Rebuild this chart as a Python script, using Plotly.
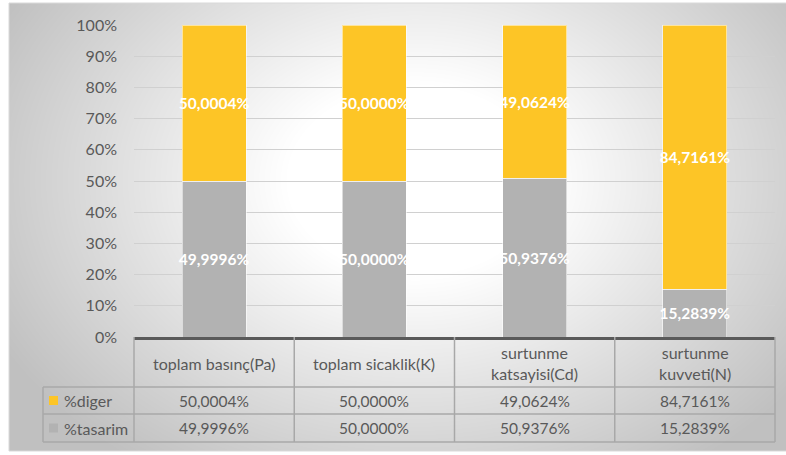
import base64
import struct
import zlib

import numpy as np
import plotly.graph_objects as go

# ---- data ----
categories = ["toplam basınç(Pa)", "toplam sicaklik(K)",
              "surtunme<br>katsayisi(Cd)", "surtunme<br>kuvveti(N)"]
series_names = ["%diger", "%tasarim"]
diger = [50.0004, 50.0000, 49.0624, 84.7161]
tasarim = [49.9996, 50.0000, 50.9376, 15.2839]
y_ticks = [0, 10, 20, 30, 40, 50, 60, 70, 80, 90, 100]
y_tick_labels = [f"{v}%" for v in y_ticks]

# ---- styling ----
W, H = 786, 455
M_L, M_R, M_T, M_B = 134, 11, 25, 118
PLOT_W = W - M_L - M_R
PLOT_H = H - M_T - M_B
YELLOW = "#FDC526"
GREY = "#B2B2B2"
TEXT = "#595959"
TABLE_LINE = "#A8A8A8"
FONT = "Lato, 'Open Sans', sans-serif"


def px_x(px):
    return (px - M_L) / PLOT_W


def px_y(py):
    return (H - M_B - py) / PLOT_H


def grey_png(arr):
    h, w = arr.shape
    raw = b"".join(b"\x00" + row.tobytes() for row in arr)

    def chunk(tag, data):
        return (struct.pack(">I", len(data)) + tag + data
                + struct.pack(">I", zlib.crc32(tag + data) & 0xFFFFFFFF))

    png = (b"\x89PNG\r\n\x1a\n"
           + chunk(b"IHDR", struct.pack(">IIBBBBB", w, h, 8, 0, 0, 0, 0))
           + chunk(b"IDAT", zlib.compress(raw, 9))
           + chunk(b"IEND", b""))
    return "data:image/png;base64," + base64.b64encode(png).decode()


# radial white-to-grey background of the chart area
BG_X0, BG_Y0, BG_X1, BG_Y1 = 9, 3, 786, 451
bw, bh = BG_X1 - BG_X0, BG_Y1 - BG_Y0
yy, xx = np.mgrid[0:bh, 0:bw]
cx, cy = 415 - BG_X0, 180 - BG_Y0
d = np.sqrt(((xx - cx) / 430.0) ** 2 + ((yy - cy) / 320.0) ** 2)
t = np.clip((d - 0.3) / 0.8, 0, 1)
bg = (255 - 63 * t).astype(np.uint8)
bg_src = grey_png(bg)

fig = go.Figure()
bar_text_font = dict(color="white", size=15.5, family=FONT, weight="bold")
fig.add_trace(go.Bar(
    name=series_names[1], x=categories, y=tasarim,
    marker=dict(color=GREY, line=dict(color="rgba(255,255,255,0.55)", width=1)),
    texttemplate="%{y:.4f}%", textposition="inside", insidetextanchor="middle",
    textangle=0, constraintext="none", textfont=bar_text_font,
    hoverinfo="skip",
))
fig.add_trace(go.Bar(
    name=series_names[0], x=categories, y=diger,
    marker=dict(color=YELLOW, line=dict(color="rgba(255,255,255,0.55)", width=1)),
    texttemplate="%{y:.4f}%", textposition="inside", insidetextanchor="middle",
    textangle=0, constraintext="none", textfont=bar_text_font,
    hoverinfo="skip",
))

shapes = []
annotations = []

# outline of the chart area
shapes.append(dict(type="rect", xref="paper", yref="paper",
                   x0=px_x(BG_X0), x1=px_x(BG_X1 + 2), y0=px_y(BG_Y1), y1=px_y(BG_Y0),
                   line=dict(color="#D9D9D9", width=1), fillcolor="rgba(0,0,0,0)",
                   layer="below"))

# data table under the plot
n = len(categories)
row_hdr_bottom, row1_bottom, row2_bottom = 387, 414, 442
legend_left = 43
for i in range(n + 1):
    shapes.append(dict(type="line", xref="paper", yref="paper",
                       x0=i / n, x1=i / n, y0=px_y(row2_bottom), y1=0,
                       line=dict(color=TABLE_LINE, width=1.5)))
shapes.append(dict(type="line", xref="paper", yref="paper",
                   x0=px_x(legend_left), x1=px_x(legend_left),
                   y0=px_y(row2_bottom), y1=px_y(row_hdr_bottom),
                   line=dict(color=TABLE_LINE, width=1.5)))
for py in (row_hdr_bottom, row1_bottom, row2_bottom):
    shapes.append(dict(type="line", xref="paper", yref="paper",
                       x0=px_x(legend_left), x1=1, y0=px_y(py), y1=px_y(py),
                       line=dict(color=TABLE_LINE, width=1.5)))

# column headers
for i, cat in enumerate(categories):
    annotations.append(dict(xref="paper", yref="paper", x=(i + 0.5) / n,
                            y=px_y((337 + row_hdr_bottom) / 2 + 1), text=cat,
                            showarrow=False, xanchor="center", yanchor="middle",
                            font=dict(size=16, color=TEXT, family=FONT)))

# value rows with legend keys
rows = [(series_names[0], diger, YELLOW, row_hdr_bottom, row1_bottom),
        (series_names[1], tasarim, GREY, row1_bottom, row2_bottom)]
for name, vals, col, top, bottom in rows:
    mid = (top + bottom) / 2
    shapes.append(dict(type="rect", xref="paper", yref="paper",
                       x0=px_x(49), x1=px_x(58), y0=px_y(mid + 4.5), y1=px_y(mid - 4.5),
                       fillcolor=col, line=dict(width=0)))
    annotations.append(dict(xref="paper", yref="paper", x=px_x(62), y=px_y(mid),
                            text=name, showarrow=False, xanchor="left", yanchor="middle",
                            font=dict(size=16, color=TEXT, family=FONT)))
    for i, v in enumerate(vals):
        annotations.append(dict(xref="paper", yref="paper", x=(i + 0.5) / n, y=px_y(mid),
                                text=f"{v:.4f}%".replace(".", ","), showarrow=False,
                                xanchor="center", yanchor="middle",
                                font=dict(size=15.5, color=TEXT, family=FONT)))

fig.update_layout(
    width=W, height=H,
    margin=dict(l=M_L, r=M_R, t=M_T, b=M_B, pad=0),
    paper_bgcolor="white", plot_bgcolor="rgba(0,0,0,0)",
    barmode="stack", bargap=0.6, showlegend=False,
    separators=",.",
    font=dict(family=FONT, color=TEXT),
    images=[dict(source=bg_src, xref="paper", yref="paper",
                 x=px_x(BG_X0), y=px_y(BG_Y0), sizex=bw / PLOT_W, sizey=bh / PLOT_H,
                 xanchor="left", yanchor="top", sizing="stretch", layer="below")],
    shapes=shapes, annotations=annotations,
    xaxis=dict(showticklabels=False, showgrid=False, zeroline=False,
               showline=True, linecolor="#5A5A5A", linewidth=2.5,
               range=[-0.5, n - 0.5], fixedrange=True),
    yaxis=dict(range=[0, 100], tickmode="array", tickvals=y_ticks, ticktext=y_tick_labels,
               showgrid=True, gridcolor="#D0D0D0", gridwidth=1.3,
               zeroline=False, showline=False, ticks="",
               ticklabelstandoff=16,
               tickfont=dict(size=16, color=TEXT, family=FONT), fixedrange=True),
)

fig.write_html("out.html")
